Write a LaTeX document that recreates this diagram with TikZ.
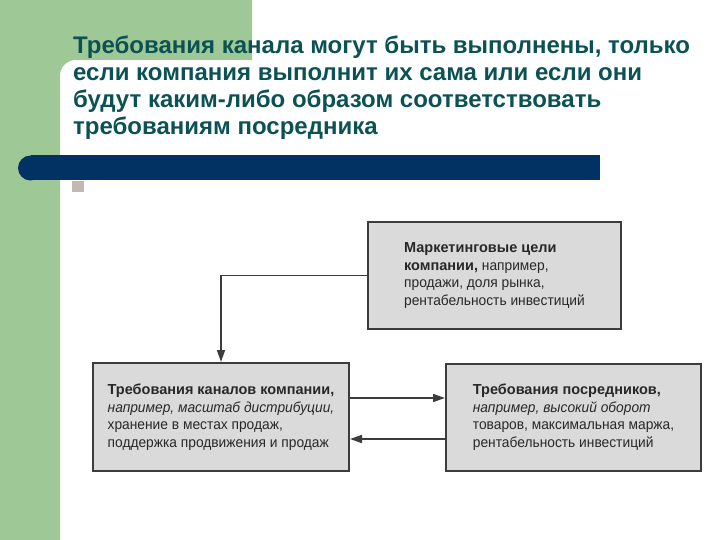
\documentclass[tikz,border=0pt]{standalone}
\usepackage{fontspec}
\setmainfont{Liberation Sans}
\newfontfamily\narrowsf[FakeStretch=0.95,
  BoldFeatures={FakeStretch=1.0}]{Liberation Sans}
\usetikzlibrary{arrows.meta,positioning}
\definecolor{sage}{RGB}{158,200,150}
\definecolor{deepblue}{RGB}{2,50,100}
\definecolor{headteal}{RGB}{12,82,84}
\definecolor{cardgray}{RGB}{218,218,218}
\definecolor{edge}{RGB}{60,60,60}
\definecolor{ink}{RGB}{40,40,40}
\definecolor{chip}{RGB}{195,185,180}
\tikzset{
  card/.style = {draw=edge, line width=2pt, fill=cardgray, text=ink,
                 align=left, inner sep=0pt, anchor=north west,
                 font=\narrowsf\fontsize{14.5}{17.5}\selectfont},
  link/.style = {-{Triangle[length=12pt,width=8pt]}, draw=edge, line width=1.6pt},
}

\begin{document}
\begin{tikzpicture}[x=1pt,y=-1pt]
\useasboundingbox (0,0) rectangle (720,540);
% slide background
\fill[white] (0,0) rectangle (720,540);
\fill[sage] (0,0) -- (252,0) -- (252,60) -- (60,60) -- (60,540) -- (0,540) -- cycle;
\fill[sage] (60,60) rectangle (76,76);
\fill[white] (76,76) circle (16pt);
\fill[deepblue] (30.5,155.5) rectangle (600,180.5);
\fill[deepblue] (30.5,168) circle (12.5pt);
\fill[chip] (72,181) rectangle (84,192);
% heading
\node[anchor=north west, align=left, inner sep=0pt, text=headteal,
      font=\bfseries\fontsize{24}{27}\selectfont] (title) at (73,36)
  {Требования канала могут быть выполнены, только\\
   если компания выполнит их сама или если они\\
   будут каким-либо образом соответствовать\\
   требованиям посредника};
% boxes
\node[card, minimum width=253pt, minimum height=107pt] (goals) at (367,221)
  {\textbf{Маркетинговые цели}\\
   \textbf{компании,} например,\\
   продажи, доля рынка,\\
   рентабельность инвестиций};
\node[card, minimum width=256pt, minimum height=108pt] (chanreq) at (92,362)
  {\textbf{Требования каналов компании,}\\
   \textit{например, масштаб дистрибуции,}\\
   хранение в местах продаж,\\
   поддержка продвижения и продаж};
\node[card, minimum width=255pt, minimum height=107pt, anchor=west,
      right=95pt of chanreq] (midreq)
  {\textbf{Требования посредников,}\\
   \textit{например, высокий оборот}\\
   товаров, максимальная маржа,\\
   рентабельность инвестиций};
% arrows
\draw[link] (goals.west) -| (chanreq.north);
\draw[link] ([yshift=19pt]chanreq.east) -- ([yshift=19pt]chanreq.east -| midreq.west);
\draw[link] ([yshift=-22pt]midreq.west) -- ([yshift=-22pt]midreq.west -| chanreq.east);
\end{tikzpicture}
\end{document}
